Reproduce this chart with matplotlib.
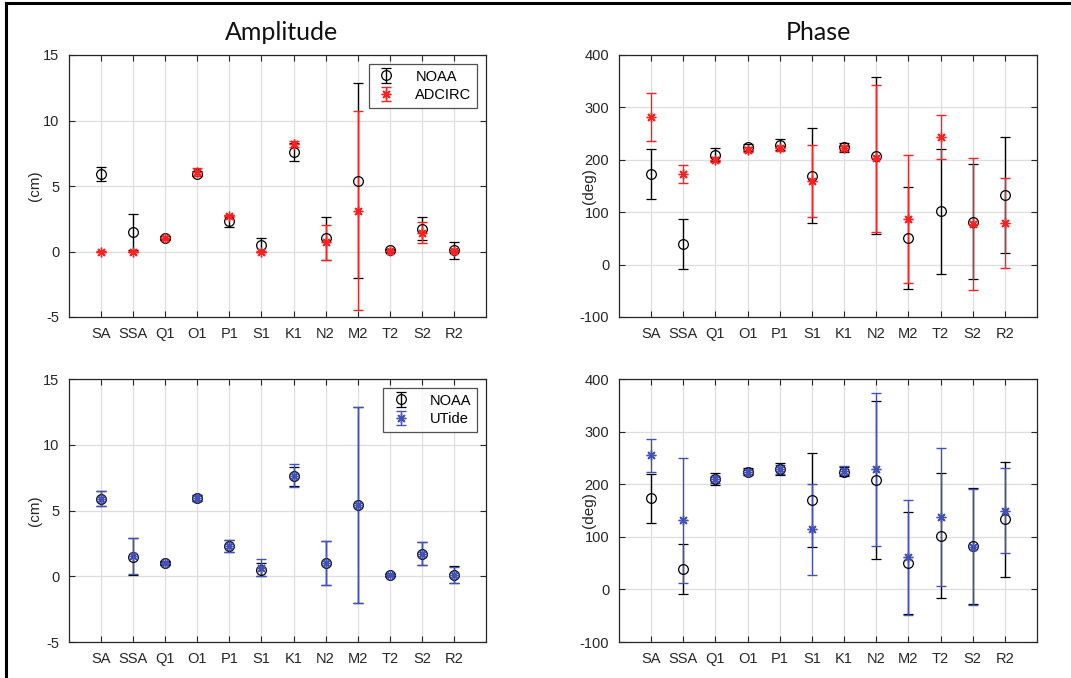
import numpy as np
import matplotlib
matplotlib.use("Agg")
import matplotlib.pyplot as plt
from matplotlib.lines import Line2D

constituents = ["SA", "SSA", "Q1", "O1", "P1", "S1", "K1", "N2", "M2", "T2", "S2", "R2"]

# Amplitude (cm)
noaa_amp = [5.9, 1.5, 1.0, 5.95, 2.3, 0.5, 7.6, 1.0, 5.4, 0.1, 1.72, 0.1]
noaa_amp_err = [0.55, 1.4, 0.15, 0.2, 0.45, 0.5, 0.7, 1.65, 7.45, 0.1, 0.88, 0.65]
adcirc_amp = [0.0, 0.0, 1.05, 6.1, 2.7, 0.0, 8.2, 0.7, 3.1, 0.05, 1.45, 0.05]
adcirc_amp_err = [0.02, 0.02, 0.1, 0.3, 0.1, 0.02, 0.22, 1.35, 7.6, 0.05, 0.78, 0.05]
utide_amp = [5.9, 1.55, 1.0, 5.95, 2.3, 0.65, 7.65, 1.0, 5.4, 0.1, 1.72, 0.1]
utide_amp_err = [0.55, 1.36, 0.1, 0.2, 0.45, 0.65, 0.88, 1.68, 7.47, 0.1, 0.9, 0.6]

# Phase (deg)
noaa_pha = [173, 39, 210, 224, 229, 170, 224, 208, 51, 102, 82, 133]
noaa_pha_err = [47, 48, 12, 7, 11, 90, 9, 150, 97, 119, 110, 110]
adcirc_pha = [282, 173, 200, 219, 222, 160, 222, 203, 87, 244, 77, 80]
adcirc_pha_err = [46, 18, 5, 5, 5, 69, 5, 140, 123, 42, 126, 86]
utide_pha = [255, 131, 209, 223, 228, 114, 226, 228, 61, 138, 80, 150]
utide_pha_err = [31, 118, 7, 5, 9, 87, 9, 145, 109, 131, 110, 80]

BLUE = "#4352b8"
RED = "#ff2020"
AXC = "#262626"

W, H = 1071, 678
plt.rcParams['font.family'] = ['Liberation Sans', 'DejaVu Sans']
plt.rcParams['axes.unicode_minus'] = False
fig = plt.figure(figsize=(W / 100, H / 100), dpi=100)

x = np.arange(1, len(constituents) + 1)
ASTER = (8, 2, 0)

def box(l, t, r, b):
    return [l / W, 1 - b / H, (r - l) / W, (b - t) / H]

axes_pos = {
    "tl": box(69, 55, 486, 317),
    "tr": box(619, 55, 1037, 317),
    "bl": box(69, 379, 486, 642),
    "br": box(619, 379, 1037, 642),
}

def style(ax, ylim, yticks, ylabel, labx):
    ax.set_xlim(0, 13)
    ax.set_ylim(*ylim)
    ax.set_yticks(yticks)
    ax.set_xticks(x)
    ax.set_xticklabels(constituents)
    ax.grid(True, color="#dedede", linewidth=0.9)
    ax.set_axisbelow(True)
    ax.tick_params(direction="in", length=4, top=True, right=True,
                   labelsize=10.5, colors=AXC, width=0.8, pad=7)
    for s in ax.spines.values():
        s.set_color(AXC)
        s.set_linewidth(0.9)
    ax.set_ylabel(ylabel, fontsize=11, color=AXC)
    ax.yaxis.set_label_coords(labx, 0.5)

def draw(ax, v1, e1, v2, e2, c2, lab2):
    ax.errorbar(x, v1, yerr=e1, fmt="o", mfc="none", mec="k", color="k",
                ms=7, mew=0.9, capsize=3.5, elinewidth=1.0, capthick=1.0, label="NOAA")
    ax.errorbar(x, v2, yerr=e2, fmt="", marker=ASTER, linestyle="none", color=c2,
                ms=7, mew=1.0, capsize=3.5, elinewidth=1.0, capthick=1.0, label=lab2)

def legend(ax):
    leg = ax.legend(loc="upper right", fontsize=10.5, frameon=True, fancybox=False,
                    edgecolor=AXC, borderpad=0.4, handlelength=1.6, handletextpad=1.2,
                    labelspacing=0.3, borderaxespad=0.6)
    leg.get_frame().set_linewidth(0.9)

ax1 = fig.add_axes(axes_pos["tl"])
draw(ax1, noaa_amp, noaa_amp_err, adcirc_amp, adcirc_amp_err, RED, "ADCIRC")
style(ax1, (-5, 15), [-5, 0, 5, 10, 15], "(cm)", -0.065)
legend(ax1)

ax2 = fig.add_axes(axes_pos["tr"])
draw(ax2, noaa_pha, noaa_pha_err, adcirc_pha, adcirc_pha_err, RED, "ADCIRC")
style(ax2, (-100, 400), [-100, 0, 100, 200, 300, 400], "(deg)", -0.055)

ax3 = fig.add_axes(axes_pos["bl"])
draw(ax3, noaa_amp, noaa_amp_err, utide_amp, utide_amp_err, BLUE, "UTide")
style(ax3, (-5, 15), [-5, 0, 5, 10, 15], "(cm)", -0.065)
legend(ax3)

ax4 = fig.add_axes(axes_pos["br"])
draw(ax4, noaa_pha, noaa_pha_err, utide_pha, utide_pha_err, BLUE, "UTide")
style(ax4, (-100, 400), [-100, 0, 100, 200, 300, 400], "(deg)", -0.055)

fig.text(282 / W, 1 - 32 / H, "Amplitude", family=["Lato", "DejaVu Sans"],
         fontsize=18, ha="center", va="center", color="#111111")
fig.text(818 / W, 1 - 32 / H, "Phase", family=["Lato", "DejaVu Sans"],
         fontsize=18, ha="center", va="center", color="#111111")

# frame of the screenshot (left and top edges)
fig.add_artist(Line2D([6 / W, 6 / W], [0, 1 - 2.5 / H], color="k", lw=2.2,
                      transform=fig.transFigure))
fig.add_artist(Line2D([6 / W, 1], [1 - 2.5 / H, 1 - 2.5 / H], color="k", lw=2.2,
                      transform=fig.transFigure))

fig.savefig("out.png", dpi=100)
